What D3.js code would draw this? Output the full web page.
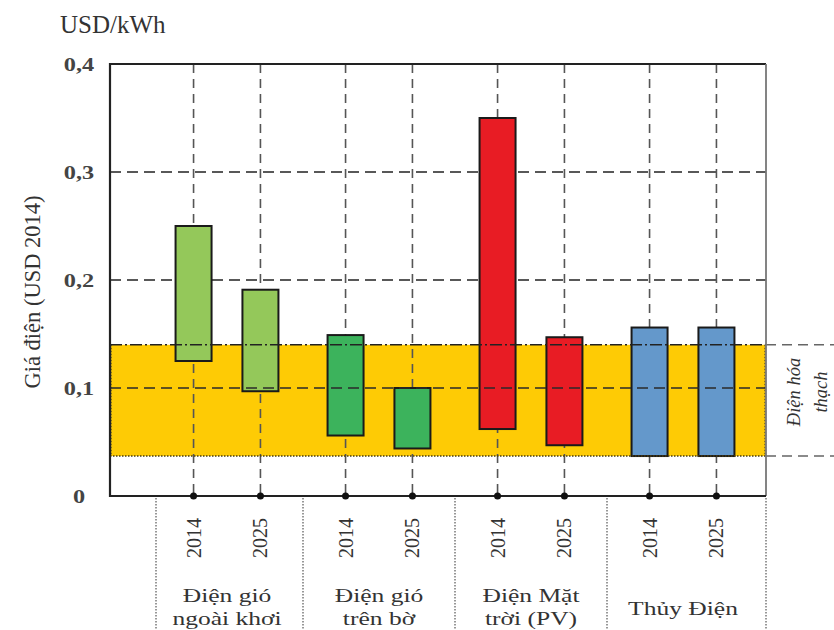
<!DOCTYPE html>
<html>
<head>
<meta charset="utf-8">
<script src="https://cdn.jsdelivr.net/npm/d3@7"></script>
<style>
  html, body { margin: 0; padding: 0; background: #fff; }
  svg { display: block; }
  svg text { font-family: "Liberation Serif", "Times New Roman", serif; }
</style>
</head>
<body>
<svg id="chart" width="834" height="630"></svg>
<script>
// ---- data ----
const groups = ["Điện gió ngoài khơi", "Điện gió trên bờ", "Điện Mặt trời (PV)", "Thủy Điện"];
const groupLines = [["Điện gió", "ngoài khơi"], ["Điện gió", "trên bờ"], ["Điện Mặt", "trời (PV)"], ["Thủy Điện"]];
const years = ["2014", "2025"];
const barGroup = ["Điện gió ngoài khơi", "Điện gió ngoài khơi", "Điện gió trên bờ", "Điện gió trên bờ",
                  "Điện Mặt trời (PV)", "Điện Mặt trời (PV)", "Thủy Điện", "Thủy Điện"];
const barYear = ["2014", "2025", "2014", "2025", "2014", "2025", "2014", "2025"];
const lows  = [0.125, 0.097, 0.056, 0.044, 0.062, 0.047, 0.037, 0.037];
const highs = [0.250, 0.191, 0.149, 0.100, 0.350, 0.147, 0.156, 0.156];
const barColors = ["#94c85a", "#94c85a", "#3cb35c", "#3cb35c", "#e81c24", "#e81c24", "#6498cb", "#6498cb"];
const fossilBand = [0.037, 0.140];
const yTicks = [0, 0.1, 0.2, 0.3, 0.4];
const yTickLabels = ["0", "0,1", "0,2", "0,3", "0,4"];
const unitLabel = "USD/kWh";
const yTitle = "Giá điện (USD 2014)";
const bandLabel = ["Điện hóa", "thạch"];

// ---- layout ----
const svg = d3.select("#chart");
const pLeft = 110, pRight = 766, pTop = 64, pBottom = 496;
const y = d3.scaleLinear().domain([0, 0.4]).range([pBottom, pTop]);
const xg = d3.scaleBand().domain(groups).range([151, 759]);
const xi = d3.scalePoint().domain(years).range([xg.bandwidth() * 0.28, xg.bandwidth() * 0.72]);
const cx = i => xg(barGroup[i]) + xi(barYear[i]);
const barW = 36;
const idx = d3.range(lows.length);

// fossil band fill
svg.append("rect")
  .attr("x", pLeft).attr("width", pRight - pLeft)
  .attr("y", y(fossilBand[1])).attr("height", y(fossilBand[0]) - y(fossilBand[1]))
  .attr("fill", "#fecb05");
[pLeft + 1, pRight - 1].forEach(xx => {
  svg.append("line").attr("x1", xx).attr("x2", xx)
    .attr("y1", y(fossilBand[1])).attr("y2", y(fossilBand[0]))
    .attr("stroke", "#6b5a20").attr("stroke-width", 1.5).attr("stroke-dasharray", "1.5,1.5");
});

// horizontal gridlines (behind bars) at 0.2, 0.3
svg.append("g").selectAll("line").data(yTicks.filter(t => t >= 0.2 && t < 0.4)).join("line")
  .attr("x1", pLeft).attr("x2", pRight)
  .attr("y1", d => y(d)).attr("y2", d => y(d))
  .attr("stroke", "#222").attr("stroke-width", 1.5).attr("stroke-dasharray", "11,6");

// vertical gridlines
svg.append("g").selectAll("line").data(idx).join("line")
  .attr("x1", cx).attr("x2", cx)
  .attr("y1", pTop).attr("y2", pBottom)
  .attr("stroke", "#555").attr("stroke-width", 1.6).attr("stroke-dasharray", "9,6");

// bars
svg.append("g").selectAll("rect").data(idx).join("rect")
  .attr("x", i => cx(i) - barW / 2).attr("width", barW)
  .attr("y", i => y(highs[i])).attr("height", i => y(lows[i]) - y(highs[i]))
  .attr("fill", i => barColors[i])
  .attr("stroke", "#1a1a1a").attr("stroke-width", 2);

// 0.1 gridline over bars
svg.append("line").attr("x1", pLeft).attr("x2", pRight)
  .attr("y1", y(0.1)).attr("y2", y(0.1))
  .attr("stroke", "#2a2a2a").attr("stroke-width", 1.5).attr("stroke-dasharray", "11,6");

// band top dash-dot and bottom dotted (inside plot)
svg.append("line").attr("x1", pLeft).attr("x2", pRight)
  .attr("y1", y(fossilBand[1])).attr("y2", y(fossilBand[1]))
  .attr("stroke", "#222").attr("stroke-width", 1.5).attr("stroke-dasharray", "12,3,2,3");
svg.append("line").attr("x1", pLeft).attr("x2", pRight)
  .attr("y1", y(fossilBand[0])).attr("y2", y(fossilBand[0]))
  .attr("stroke", "#4a3d10").attr("stroke-width", 1.6).attr("stroke-dasharray", "1.5,1.5");
fossilBand.forEach(v => {
  svg.append("line").attr("x1", pRight).attr("x2", 834)
    .attr("y1", y(v)).attr("y2", y(v))
    .attr("stroke", "#666").attr("stroke-width", 1.6).attr("stroke-dasharray", "10,6");
});

// frame
svg.append("line").attr("x1", pLeft).attr("x2", pRight).attr("y1", pTop).attr("y2", pTop)
  .attr("stroke", "#222").attr("stroke-width", 1.8);
svg.append("line").attr("x1", pRight).attr("x2", pRight).attr("y1", pTop).attr("y2", pBottom)
  .attr("stroke", "#777").attr("stroke-width", 1.8);
svg.append("line").attr("x1", pLeft).attr("x2", pLeft).attr("y1", pTop - 1).attr("y2", pBottom + 1)
  .attr("stroke", "#222").attr("stroke-width", 2.2);
svg.append("line").attr("x1", pLeft).attr("x2", pRight).attr("y1", pBottom).attr("y2", pBottom)
  .attr("stroke", "#222").attr("stroke-width", 2.2);

// dots on x axis
svg.append("g").selectAll("circle").data(idx).join("circle")
  .attr("cx", cx).attr("cy", pBottom).attr("r", 3.5).attr("fill", "#111");

// separators below axis
const seps = groups.map(g => xg(g) + (g === groups[0] ? 5 : 0)).concat([pRight]);
svg.append("g").selectAll("line").data(seps).join("line")
  .attr("x1", d => d).attr("x2", d => d).attr("y1", pBottom + 2).attr("y2", 630)
  .attr("stroke", "#777").attr("stroke-width", 1.5).attr("stroke-dasharray", "1.5,1.5");

// y tick labels (wide, heavy serif)
svg.append("g").selectAll("text").data(yTicks).join("text")
  .attr("transform", d => `translate(79,${y(d) + 1}) scale(1.35,1)`)
  .attr("dy", "0.35em")
  .attr("text-anchor", "middle").attr("font-size", 18).attr("font-weight", "bold").attr("fill", "#444")
  .text((d, i) => yTickLabels[i]);

// unit label
svg.append("text").attr("x", 60).attr("y", 33).attr("font-size", 25).attr("fill", "#333").text(unitLabel);

// y title
svg.append("text").attr("transform", "translate(32,292) rotate(-90)")
  .attr("text-anchor", "middle").attr("dominant-baseline", "central")
  .attr("font-size", 22.5).attr("fill", "#333").text(yTitle);

// year labels
svg.append("g").selectAll("text").data(idx).join("text")
  .attr("transform", i => `translate(${cx(i)},538) rotate(-90)`)
  .attr("text-anchor", "middle").attr("dominant-baseline", "central")
  .attr("font-size", 20).attr("fill", "#333")
  .text(i => barYear[i]);

// group labels (wide serif)
groups.forEach((g, gi) => {
  const lines = groupLines[gi];
  const gx = xg(g) + xg.bandwidth() / 2;
  const startY = lines.length === 1 ? 615 : 602;
  lines.forEach((ln, li) => {
    svg.append("text").attr("transform", `translate(${gx},${startY + li * 23}) scale(1.38,1)`)
      .attr("text-anchor", "middle").attr("font-size", 18.5).attr("fill", "#333").text(ln);
  });
});

// band label
bandLabel.forEach((ln, li) => {
  svg.append("text").attr("transform", `translate(${794 + li * 27},392) rotate(-90)`)
    .attr("text-anchor", "middle").attr("dominant-baseline", "central")
    .attr("font-size", 18.5).attr("font-style", "italic").attr("fill", "#333").text(ln);
});
</script>
</body>
</html>
